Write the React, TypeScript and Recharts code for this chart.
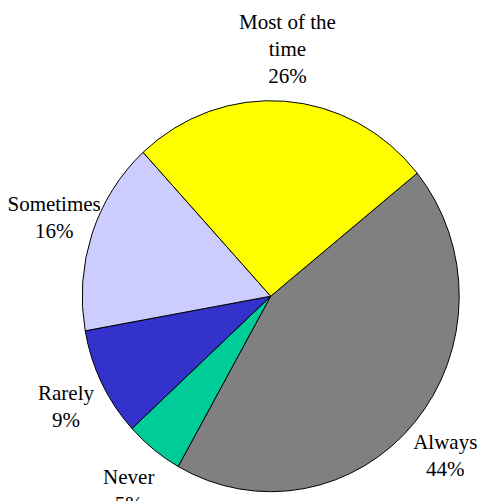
import React from "react";
import { Cell, Pie, PieChart } from "recharts";

// answers, clockwise from the upper right
const categories = ["Always", "Never", "Rarely", "Sometimes", "Most of the time"];
const shares = [44, 5, 9, 16, 26];
const colors = ["#808080", "#00CC99", "#3333CC", "#CCCCFF", "#FFFF00"];

const data = categories.map((name, i) => ({ name, value: shares[i] }));

const RADIAN = Math.PI / 180;
const FONT = "'Liberation Serif', 'Times New Roman', Times, serif";
// the original pie is a touch taller than wide
const SQUASH_X = 188.5 / 192;
const SQUASH_Y = 195.5 / 192;

// long names go on two lines, like "Most of the" / "time"
function splitName(name: string) {
  const words = name.split(" ");
  if (words.length < 3) return [name];
  return [words.slice(0, -1).join(" "), words[words.length - 1]];
}

function EllipseSector(props: any) {
  const { cx, cy, outerRadius, startAngle, endAngle, fill, stroke } = props;
  const rx = outerRadius * SQUASH_X;
  const ry = outerRadius * SQUASH_Y;
  const pt = (a: number) => [
    cx + rx * Math.cos(-a * RADIAN),
    cy + ry * Math.sin(-a * RADIAN),
  ];
  const [x1, y1] = pt(startAngle);
  const [x2, y2] = pt(endAngle);
  const large = Math.abs(endAngle - startAngle) > 180 ? 1 : 0;
  const sweep = startAngle > endAngle ? 1 : 0;
  const d = `M${cx},${cy} L${x1},${y1} A${rx},${ry} 0 ${large} ${sweep} ${x2},${y2} Z`;
  return <path d={d} fill={fill} stroke={stroke} strokeWidth={1} strokeLinejoin="round" />;
}

function renderLabel(props: any) {
  const { cx, cy, midAngle, outerRadius, name, value } = props;
  const lines = [...splitName(name), `${value}%`];
  const rx = outerRadius * SQUASH_X + 40;
  const ry = outerRadius * SQUASH_Y + 52;
  const x = cx + rx * Math.cos(-midAngle * RADIAN);
  const y = cy + ry * Math.sin(-midAngle * RADIAN);
  const lineH = 27;
  const top = y - ((lines.length - 1) * lineH) / 2;
  return (
    <text
      x={x}
      y={top}
      textAnchor="middle"
      fill="#000"
      style={{ fontFamily: FONT, fontSize: 21 }}
    >
      {lines.map((l, i) => (
        <tspan key={i} x={x} y={top + i * lineH + 7}>
          {l}
        </tspan>
      ))}
    </text>
  );
}

export default function App() {
  return (
    <div style={{ position: "absolute", left: 0, top: 0, background: "#fff" }}>
      <PieChart
        width={480}
        height={501}
        margin={{ top: 0, right: 0, bottom: 0, left: 0 }}
        style={{ overflow: "visible" }}
      >
        <Pie
          data={data}
          dataKey="value"
          nameKey="name"
          cx={270.7}
          cy={296.2}
          outerRadius={192}
          startAngle={39}
          endAngle={-321}
          stroke="#000"
          strokeWidth={1}
          shape={EllipseSector}
          label={renderLabel}
          labelLine={false}
          isAnimationActive={false}
        >
          {data.map((d, i) => (
            <Cell key={d.name} fill={colors[i]} />
          ))}
        </Pie>
      </PieChart>
    </div>
  );
}
